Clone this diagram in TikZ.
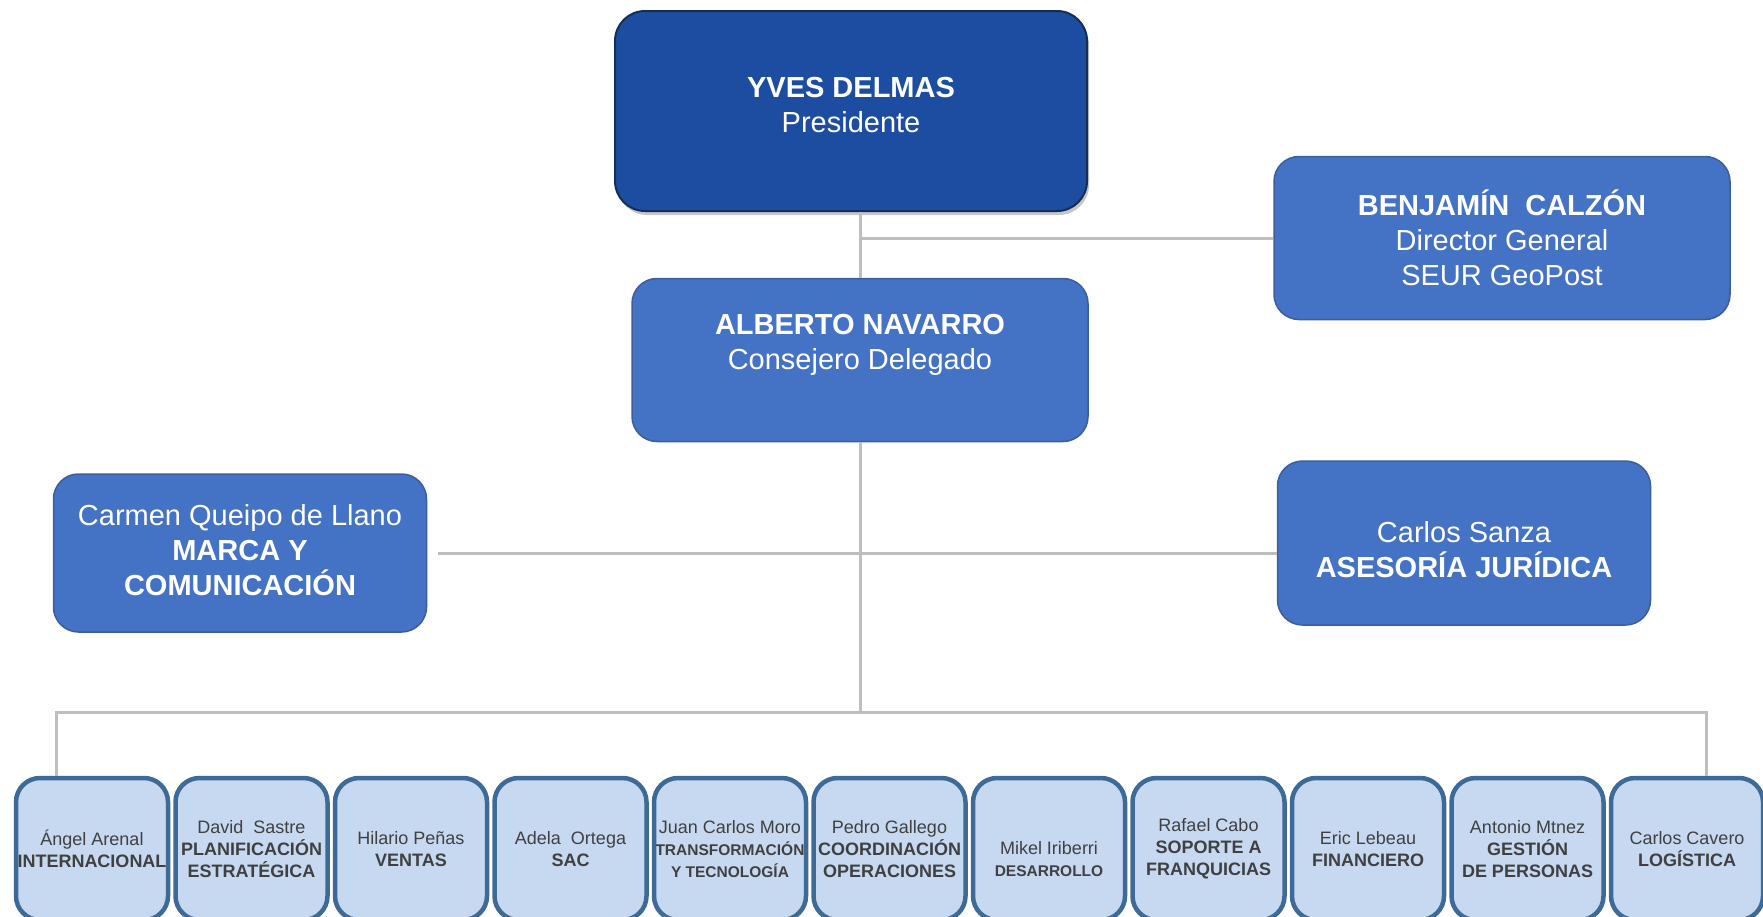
\documentclass[tikz,border=0pt]{standalone}
\usepackage{fontspec}
\setmainfont{Liberation Sans}
\usepackage{tikz}
\usetikzlibrary{shadows}
\usetikzlibrary{backgrounds}
\usepackage{xcolor}
\definecolor{boss-blue}{RGB}{28,77,160}
\definecolor{boss-edge}{RGB}{20,46,92}
\definecolor{head-blue}{RGB}{68,114,196}
\definecolor{head-edge}{RGB}{58,94,158}
\definecolor{dept-fill}{RGB}{198,217,241}
\definecolor{dept-edge}{RGB}{62,106,152}
\definecolor{dept-text}{RGB}{64,64,64}
\definecolor{link-grey}{RGB}{190,190,190}
\tikzstyle{boss}=[draw=boss-edge, fill=boss-blue, line width=2pt, rounded corners=30pt, text=white, align=center, inner sep=0pt, font=\fontsize{29}{35}\selectfont, drop shadow={shadow xshift=2pt, shadow yshift=-4pt, opacity=.45}]
\tikzstyle{head}=[draw=head-edge, fill=head-blue, line width=1.5pt, rounded corners=25pt, text=white, align=center, inner sep=0pt, font=\fontsize{29}{35}\selectfont]
\tikzstyle{dept}=[draw=dept-edge, fill=dept-fill, line width=4.5pt, rounded corners=24pt, text=dept-text, align=center, inner sep=0pt, minimum width=152pt, minimum height=142pt, font=\fontsize{18}{22}\selectfont]
\tikzstyle{link}=[draw=link-grey, line width=3pt]
\newcommand{\deptsmall}[1]{{\fontsize{15.5}{20}\selectfont\textbf{#1}}}

\begin{document}
\begin{tikzpicture}[x=1pt, y=-1pt]
	\useasboundingbox (0,0) rectangle (1763,916);
	% top of the chart
	\node[boss, minimum width=472pt, minimum height=200pt, text depth=13pt] (yves) at (851,111) {\textbf{YVES DELMAS}\\Presidente};
	\node[head, minimum width=456pt, minimum height=163pt] (benjamin) at (1502,238) {\textbf{BENJAMÍN \ CALZÓN}\\Director General\\SEUR GeoPost};
	\node[head, minimum width=456pt, minimum height=163pt, text depth=36pt] (alberto) at (860,360) {\textbf{ALBERTO NAVARRO}\\Consejero Delegado};
	\node[head, minimum width=373pt, minimum height=158pt, text depth=6pt] (carmen) at (240,553) {Carmen Queipo de Llano\\\textbf{MARCA Y}\\\textbf{COMUNICACIÓN}};
	\node[head, minimum width=373pt, minimum height=164pt, text height=70pt] (sanza) at (1464,543) {Carlos Sanza\\\textbf{ASESORÍA JURÍDICA}};
	% departments
	\node[dept] (internacional) at (92,849) {Ángel Arenal\\\textbf{INTERNACIONAL}};
	\node[dept] (planificacion) at (251.5,849) {David \ Sastre\\\textbf{PLANIFICACIÓN}\\\textbf{ESTRATÉGICA}};
	\node[dept] (ventas) at (411,849) {Hilario Peñas\\\textbf{VENTAS}};
	\node[dept] (sac) at (570.5,849) {Adela \ Ortega\\\textbf{SAC}};
	\node[dept] (transformacion) at (730,849) {Juan Carlos Moro\\\deptsmall{TRANSFORMACIÓN}\\\deptsmall{Y TECNOLOGÍA}};
	\node[dept] (operaciones) at (889.5,849) {Pedro Gallego\\\textbf{COORDINACIÓN}\\\textbf{OPERACIONES}};
	\node[dept, text height=55pt] (desarrollo) at (1049,849) {Mikel Iriberri\\\deptsmall{DESARROLLO}};
	\node[dept] (franquicias) at (1208.5,849) {Rafael Cabo\\\textbf{SOPORTE A}\\\textbf{FRANQUICIAS}};
	\node[dept] (financiero) at (1368,849) {Eric Lebeau\\\textbf{FINANCIERO}};
	\node[dept] (personas) at (1527.5,849) {Antonio Mtnez\\\textbf{GESTIÓN}\\\textbf{DE PERSONAS}};
	\node[dept] (logistica) at (1687,849) {Carlos Cavero\\\textbf{LOGÍSTICA}};
	% links
	\coordinate (busL) at (56,712);
	\coordinate (busR) at (1706,712);
	\draw[link] (alberto.north |- yves.south) -- (alberto.north);
	\draw[link] (benjamin.west) -- (benjamin.west -| alberto.north);
	\draw[link] ([xshift=11pt]carmen.east) -- (carmen.east -| sanza.west);
	\draw[link] (alberto.south) -- (alberto.south |- busL);
	\draw[link] (internacional.north -| busL) -- (busL) -- (busR) -- (busR |- logistica.north);
\end{tikzpicture}
\end{document}
